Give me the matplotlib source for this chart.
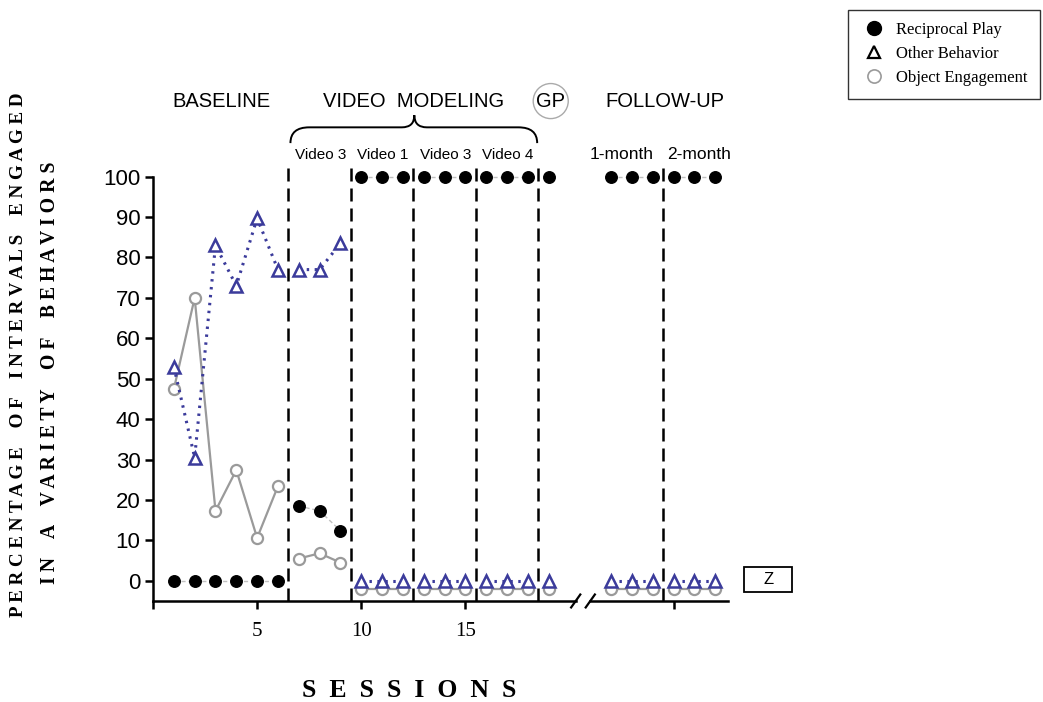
import numpy as np
import matplotlib
matplotlib.use("Agg")
import matplotlib.pyplot as plt
from matplotlib.path import Path
from matplotlib.patches import PathPatch, Rectangle
from matplotlib.lines import Line2D

# Session numbers (follow-up sessions sit after the axis break)
sessions = np.array([1, 2, 3, 4, 5, 6, 7, 8, 9, 10, 11, 12, 13, 14, 15, 16, 17, 18, 19,
                     22, 23, 24, 25, 26, 27])

# Percentage of intervals per behavior
reciprocal = np.array([0, 0, 0, 0, 0, 0, 18.5, 17.3, 12.4,
                       100, 100, 100, 100, 100, 100, 100, 100, 100, 100,
                       100, 100, 100, 100, 100, 100])
other = np.array([53, 30.5, 83, 73, 89.7, 77, 77, 77, 83.5,
                  0, 0, 0, 0, 0, 0, 0, 0, 0, 0,
                  0, 0, 0, 0, 0, 0])
engagement = np.array([47.4, 70, 17.3, 27.4, 10.6, 23.4, 5.5, 6.8, 4.5,
                       0, 0, 0, 0, 0, 0, 0, 0, 0, 0,
                       0, 0, 0, 0, 0, 0])

phase_lines = [6.5, 9.5, 12.5, 15.5, 18.5, 24.5]
phase_titles = ["BASELINE", "VIDEO  MODELING", "GP", "FOLLOW-UP"]
phase_title_x = [3.3, 12.5, 19.1, 24.6]
sub_labels = ["Video 3", "Video 1", "Video 3", "Video 4", "1-month", "2-month"]
sub_label_x = [8.05, 11.05, 14.05, 17.05, 22.5, 26.2]
x_ticks = [0, 5, 10, 15, 25]
x_tick_labels = ["", "5", "10", "15", ""]
y_ticks = np.arange(0, 101, 10)

SANS = "Liberation Sans"
SERIF = "Liberation Serif"
BLUE = "#3b3b9b"
GREY = "#9a9a9a"

fig = plt.figure(figsize=(10.43, 7.02), dpi=100)
ax = fig.add_axes([0.1467, 0.1439, 0.559, 0.6275])
ax.set_xlim(0, 28)
ax.set_ylim(-5, 104)

# separate phases so lines are not drawn across phase changes
groups = np.digitize(sessions, sorted(phase_lines + [20]))


def draw_series(y, line_kw, marker_kw, z):
    for g in np.unique(groups):
        m = groups == g
        ax.plot(sessions[m], y[m], zorder=z, **line_kw)
    ax.plot(sessions, y, linestyle="none", zorder=z + 0.5, clip_on=False, **marker_kw)


# zero engagement points are nudged below the other-behavior triangles
eng_plot = np.where(engagement == 0, -2, engagement)

draw_series(eng_plot, dict(color=GREY, lw=1.6),
            dict(marker="o", ms=8, mfc="white", mec=GREY, mew=1.6), 3)
draw_series(other, dict(color=BLUE, lw=2.2, linestyle=(0, (0.8, 1.8))),
            dict(marker="^", ms=8.5, mfc="white", mec=BLUE, mew=1.8), 4)
draw_series(reciprocal, dict(color="#c0c0c0", lw=1.0, linestyle=(0, (3, 2))),
            dict(marker="o", ms=8.3, mfc="black", mec="black"), 5)

# phase change lines
for xl in phase_lines:
    ax.plot([xl, xl], [-5, 103], color="black", lw=1.8,
            linestyle=(0, (5.2, 2.8)), clip_on=False, zorder=2)

# axes styling with a broken x axis
for s in ["top", "right", "bottom"]:
    ax.spines[s].set_visible(False)
ax.spines["left"].set_bounds(-5, 100)
ax.spines["left"].set_linewidth(1.8)
ax.plot([0, 20.3], [-5, -5], color="black", lw=1.8, clip_on=False, zorder=6)
ax.plot([21.0, 27.6], [-5, -5], color="black", lw=1.8, clip_on=False, zorder=6)
for bx in [20.3, 21.0]:
    ax.plot([bx - 0.22, bx + 0.22], [-6.6, -3.4], color="black", lw=1.6,
            clip_on=False, zorder=6)

ax.set_yticks(y_ticks)
ax.set_yticklabels([str(v) for v in y_ticks], fontfamily=SANS, fontsize=16)
ax.set_xticks(x_ticks)
ax.set_xticklabels(x_tick_labels, fontfamily=SERIF, fontsize=15)
ax.tick_params(axis="y", direction="out", length=6, width=1.8, pad=3)
ax.tick_params(axis="x", direction="out", length=6, width=1.8, pad=9)

# phase headings
for t, xp in zip(phase_titles, phase_title_x):
    if t == "GP":
        ax.text(xp, 118.7, t, ha="center", va="center", fontfamily=SANS, fontsize=14.5,
                clip_on=False,
                bbox=dict(boxstyle="circle,pad=0.15", fc="none", ec="#aaaaaa", lw=1.0))
    else:
        ax.text(xp, 118.7, t, ha="center", va="center", fontfamily=SANS, fontsize=14.5,
                clip_on=False)
for t, xp in zip(sub_labels, sub_label_x):
    size = 12.5 if "month" in t else 11
    ax.text(xp, 105.4, t, ha="center", va="center", fontfamily=SANS, fontsize=size,
            clip_on=False)

# curly brace over the video modeling phases
x0, x1, xc = 6.6, 18.45, 12.55
y_end, y_mid, y_top = 108.3, 112.2, 115.2
verts = [(x0, y_end), (x0, y_mid), (x0 + 0.9, y_mid),
         (xc - 0.6, y_mid), (xc, y_mid), (xc, y_top),
         (xc, y_mid), (xc + 0.6, y_mid),
         (x1 - 0.9, y_mid), (x1, y_mid), (x1, y_end)]
codes = [Path.MOVETO, Path.CURVE3, Path.CURVE3,
         Path.LINETO, Path.CURVE3, Path.CURVE3,
         Path.CURVE3, Path.CURVE3,
         Path.LINETO, Path.CURVE3, Path.CURVE3]
ax.add_patch(PathPatch(Path(verts, codes), fc="none", ec="black", lw=1.4, clip_on=False))

# Z marker box
ax.add_patch(Rectangle((28.4, -2.8), 2.3, 6.2, fc="white", ec="black", lw=1.3,
                       clip_on=False))
ax.text(29.55, 0.3, "Z", ha="center", va="center", fontfamily=SANS, fontsize=12,
        clip_on=False)

# axis titles
fig.text(0.0175, 0.494, "P E R C E N T A G E    O F    I N T E R V A L S    E N G A G E D",
         rotation=90, ha="center", va="center", fontfamily=SERIF, fontweight="bold",
         fontsize=13.7)
fig.text(0.048, 0.469, "I N    A    V A R I E T Y    O F    B E H A V I O R S",
         rotation=90, ha="center", va="center", fontfamily=SERIF, fontweight="bold",
         fontsize=14.2)
fig.text(0.392, 0.017, "S  E  S  S  I  O  N  S", ha="center", va="center",
         fontfamily=SERIF, fontweight="bold", fontsize=18.5)

# legend
handles = [
    Line2D([], [], linestyle="none", marker="o", ms=10, mfc="black", mec="black"),
    Line2D([], [], linestyle="none", marker="^", ms=9, mfc="white", mec="black", mew=1.6),
    Line2D([], [], linestyle="none", marker="o", ms=9.5, mfc="white", mec=GREY, mew=1.2),
]
leg = fig.legend(handles, ["Reciprocal Play", "Other Behavior", "Object Engagement"],
                 loc="upper right", bbox_to_anchor=(0.997, 0.986), borderaxespad=0,
                 frameon=True, fancybox=False, edgecolor="black", handlelength=1.7,
                 handletextpad=0.45, labelspacing=0.48, borderpad=0.75,
                 prop={"family": SERIF, "size": 12})
leg.get_frame().set_linewidth(1.0)

fig.savefig("out.png", dpi=100)
